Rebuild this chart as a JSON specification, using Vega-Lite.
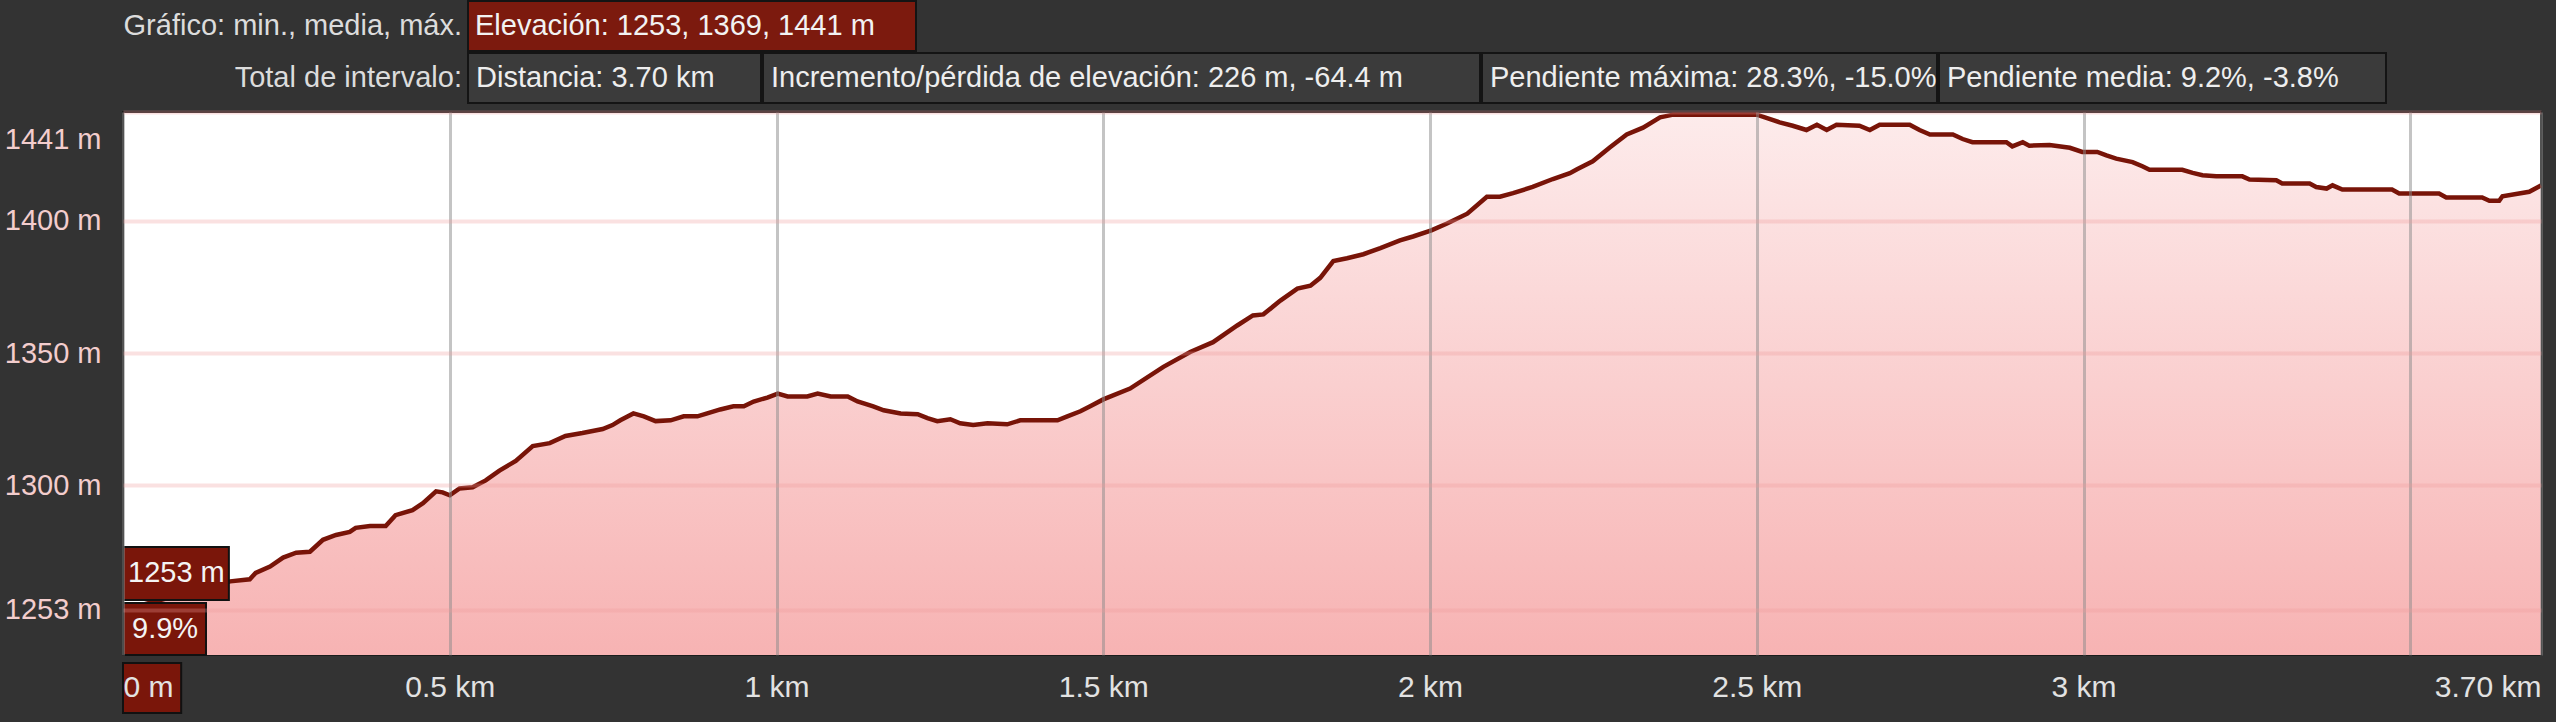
{
  "$schema": "https://vega.github.io/schema/vega-lite/v6.json",
  "background": "#333333",
  "padding": {"left": 0, "top": 0, "right": 16, "bottom": 0},
  "spacing": 0,
  "config": {
    "font": "Liberation Sans, Arial, sans-serif",
    "view": {"stroke": null},
    "text": {"font": "Liberation Sans, Arial, sans-serif", "fontSize": 29}
  },
  "datasets": {
    "profile": [
      {"km": 0, "elev": 1253}, {"km": 0.164, "elev": 1263.8}, {"km": 0.194, "elev": 1264.6}, {"km": 0.203, "elev": 1267},
      {"km": 0.225, "elev": 1269.4}, {"km": 0.245, "elev": 1272.8}, {"km": 0.265, "elev": 1274.6}, {"km": 0.286, "elev": 1275},
      {"km": 0.306, "elev": 1279.5}, {"km": 0.326, "elev": 1281.3}, {"km": 0.347, "elev": 1282.5}, {"km": 0.356, "elev": 1284},
      {"km": 0.378, "elev": 1284.7}, {"km": 0.402, "elev": 1284.7}, {"km": 0.417, "elev": 1288.8}, {"km": 0.443, "elev": 1290.7},
      {"km": 0.459, "elev": 1293.3}, {"km": 0.479, "elev": 1297.8}, {"km": 0.489, "elev": 1297.4}, {"km": 0.5, "elev": 1296.3},
      {"km": 0.515, "elev": 1298.9}, {"km": 0.535, "elev": 1299.3}, {"km": 0.555, "elev": 1301.9}, {"km": 0.576, "elev": 1305.6},
      {"km": 0.601, "elev": 1309.3}, {"km": 0.627, "elev": 1314.9}, {"km": 0.653, "elev": 1316}, {"km": 0.677, "elev": 1318.7},
      {"km": 0.703, "elev": 1319.8}, {"km": 0.734, "elev": 1321.3}, {"km": 0.749, "elev": 1322.8}, {"km": 0.761, "elev": 1324.6},
      {"km": 0.781, "elev": 1327.2}, {"km": 0.797, "elev": 1326.1}, {"km": 0.815, "elev": 1324.3}, {"km": 0.838, "elev": 1324.6},
      {"km": 0.858, "elev": 1326.1}, {"km": 0.879, "elev": 1326.1}, {"km": 0.894, "elev": 1327.2}, {"km": 0.914, "elev": 1328.7},
      {"km": 0.934, "elev": 1329.9}, {"km": 0.95, "elev": 1329.9}, {"km": 0.965, "elev": 1331.7}, {"km": 0.986, "elev": 1333.2},
      {"km": 1.002, "elev": 1334.7}, {"km": 1.017, "elev": 1333.6}, {"km": 1.047, "elev": 1333.6}, {"km": 1.063, "elev": 1334.7},
      {"km": 1.083, "elev": 1333.6}, {"km": 1.109, "elev": 1333.6}, {"km": 1.124, "elev": 1331.7}, {"km": 1.148, "elev": 1329.9},
      {"km": 1.164, "elev": 1328.4}, {"km": 1.19, "elev": 1327.2}, {"km": 1.216, "elev": 1326.9}, {"km": 1.231, "elev": 1325.4},
      {"km": 1.246, "elev": 1324.3}, {"km": 1.266, "elev": 1325}, {"km": 1.281, "elev": 1323.5}, {"km": 1.301, "elev": 1322.8},
      {"km": 1.323, "elev": 1323.5}, {"km": 1.353, "elev": 1323.1}, {"km": 1.373, "elev": 1324.6}, {"km": 1.43, "elev": 1324.6},
      {"km": 1.445, "elev": 1326.1}, {"km": 1.465, "elev": 1328}, {"km": 1.48, "elev": 1329.9}, {"km": 1.5, "elev": 1332.5},
      {"km": 1.541, "elev": 1336.6}, {"km": 1.592, "elev": 1344.8}, {"km": 1.633, "elev": 1350.4}, {"km": 1.668, "elev": 1354.1},
      {"km": 1.705, "elev": 1360.4}, {"km": 1.729, "elev": 1364.2}, {"km": 1.745, "elev": 1364.6}, {"km": 1.771, "elev": 1369.8},
      {"km": 1.797, "elev": 1374.3}, {"km": 1.817, "elev": 1375.4}, {"km": 1.832, "elev": 1378.4}, {"km": 1.852, "elev": 1384.7},
      {"km": 1.873, "elev": 1385.8}, {"km": 1.898, "elev": 1387.3}, {"km": 1.924, "elev": 1389.6}, {"km": 1.954, "elev": 1392.5},
      {"km": 1.974, "elev": 1394}, {"km": 2.002, "elev": 1396.3}, {"km": 2.026, "elev": 1398.9}, {"km": 2.057, "elev": 1402.6},
      {"km": 2.087, "elev": 1409}, {"km": 2.107, "elev": 1409}, {"km": 2.127, "elev": 1410.4}, {"km": 2.157, "elev": 1412.7},
      {"km": 2.188, "elev": 1415.7}, {"km": 2.214, "elev": 1417.9}, {"km": 2.225, "elev": 1419.4}, {"km": 2.249, "elev": 1422.4},
      {"km": 2.275, "elev": 1427.6}, {"km": 2.301, "elev": 1432.5}, {"km": 2.326, "elev": 1435.1}, {"km": 2.352, "elev": 1439},
      {"km": 2.372, "elev": 1440}, {"km": 2.5, "elev": 1440}, {"km": 2.535, "elev": 1437.1}, {"km": 2.555, "elev": 1435.8},
      {"km": 2.576, "elev": 1434.2}, {"km": 2.592, "elev": 1436.2}, {"km": 2.607, "elev": 1434.2}, {"km": 2.622, "elev": 1436.2},
      {"km": 2.657, "elev": 1435.8}, {"km": 2.673, "elev": 1434.2}, {"km": 2.688, "elev": 1436.2}, {"km": 2.734, "elev": 1436.2},
      {"km": 2.749, "elev": 1434.2}, {"km": 2.765, "elev": 1432.5}, {"km": 2.8, "elev": 1432.5}, {"km": 2.815, "elev": 1430.8},
      {"km": 2.83, "elev": 1429.6}, {"km": 2.882, "elev": 1429.6}, {"km": 2.891, "elev": 1428}, {"km": 2.907, "elev": 1429.6},
      {"km": 2.917, "elev": 1428.3}, {"km": 2.948, "elev": 1428.5}, {"km": 2.979, "elev": 1427.5}, {"km": 2.998, "elev": 1425.9},
      {"km": 3.021, "elev": 1425.9}, {"km": 3.035, "elev": 1424.6}, {"km": 3.05, "elev": 1423.4}, {"km": 3.075, "elev": 1422.1},
      {"km": 3.09, "elev": 1420.5}, {"km": 3.101, "elev": 1419.2}, {"km": 3.151, "elev": 1419.2}, {"km": 3.167, "elev": 1418},
      {"km": 3.182, "elev": 1417.1}, {"km": 3.203, "elev": 1416.7}, {"km": 3.243, "elev": 1416.7}, {"km": 3.254, "elev": 1415.5},
      {"km": 3.295, "elev": 1415.2}, {"km": 3.304, "elev": 1414}, {"km": 3.346, "elev": 1414}, {"km": 3.356, "elev": 1412.7},
      {"km": 3.372, "elev": 1412.1}, {"km": 3.381, "elev": 1413.3}, {"km": 3.396, "elev": 1411.7}, {"km": 3.472, "elev": 1411.7},
      {"km": 3.483, "elev": 1410.2}, {"km": 3.544, "elev": 1410.2}, {"km": 3.555, "elev": 1408.7}, {"km": 3.61, "elev": 1408.7},
      {"km": 3.621, "elev": 1407.5}, {"km": 3.636, "elev": 1407.5}, {"km": 3.641, "elev": 1409.2}, {"km": 3.682, "elev": 1410.9},
      {"km": 3.7, "elev": 1413.3}
    ]
  },
  "vconcat": [
    {
      "spacing": 0,
      "hconcat": [
        {
          "width": 344, "height": 50,
          "data": {"values": [{"t": "Gráfico: min., media, máx."}]},
          "mark": {"type": "text", "align": "right", "baseline": "middle", "dx": -5, "color": "#dcdcdc"},
          "encoding": {"x": {"value": "width"}, "text": {"field": "t"}}
        },
        {
          "width": 448, "height": 50,
          "view": {"fill": "#7c1a0e", "stroke": "#141414", "strokeWidth": 2},
          "data": {"values": [{"t": "Elevación: 1253, 1369, 1441 m"}]},
          "mark": {"type": "text", "align": "left", "baseline": "middle", "dx": 7, "color": "#f2f2f2"},
          "encoding": {"x": {"value": 0}, "text": {"field": "t"}}
        }
      ]
    },
    {
      "spacing": 0,
      "hconcat": [
        {
          "width": 344, "height": 50,
          "data": {"values": [{"t": "Total de intervalo:"}]},
          "mark": {"type": "text", "align": "right", "baseline": "middle", "dx": -5, "color": "#dcdcdc"},
          "encoding": {"x": {"value": "width"}, "text": {"field": "t"}}
        },
        {
          "width": 293, "height": 50,
          "view": {"fill": "#3b3b3b", "stroke": "#141414", "strokeWidth": 2},
          "data": {"values": [{"t": "Distancia: 3.70 km"}]},
          "mark": {"type": "text", "align": "left", "baseline": "middle", "dx": 8, "color": "#eeeeee"},
          "encoding": {"x": {"value": 0}, "text": {"field": "t"}}
        },
        {
          "width": 717, "height": 50,
          "view": {"fill": "#3b3b3b", "stroke": "#141414", "strokeWidth": 2},
          "data": {"values": [{"t": "Incremento/pérdida de elevación: 226 m, -64.4 m"}]},
          "mark": {"type": "text", "align": "left", "baseline": "middle", "dx": 8, "color": "#eeeeee"},
          "encoding": {"x": {"value": 0}, "text": {"field": "t"}}
        },
        {
          "width": 455, "height": 50,
          "view": {"fill": "#3b3b3b", "stroke": "#141414", "strokeWidth": 2},
          "data": {"values": [{"t": "Pendiente máxima: 28.3%, -15.0%"}]},
          "mark": {"type": "text", "align": "left", "baseline": "middle", "dx": 8, "color": "#eeeeee"},
          "encoding": {"x": {"value": 0}, "text": {"field": "t"}}
        },
        {
          "width": 447, "height": 50,
          "view": {"fill": "#3b3b3b", "stroke": "#141414", "strokeWidth": 2},
          "data": {"values": [{"t": "Pendiente media: 9.2%, -3.8%"}]},
          "mark": {"type": "text", "align": "left", "baseline": "middle", "dx": 8, "color": "#eeeeee"},
          "encoding": {"x": {"value": 0}, "text": {"field": "t"}}
        }
      ]
    },
    {
      "width": 2418, "height": 543,
      "view": {"fill": "#ffffff", "stroke": "#1c1c1c", "strokeWidth": 2},
      "layer": [
        {
          "data": {"name": "profile"},
          "mark": {
            "type": "area", "clip": true,
            "color": {
              "gradient": "linear", "x1": 0, "y1": 0, "x2": 0, "y2": 1,
              "stops": [{"offset": 0, "color": "#fdebeb"}, {"offset": 1, "color": "#f7b3b3"}]
            }
          },
          "encoding": {
            "x": {
              "field": "km", "type": "quantitative",
              "scale": {"domain": [0, 3.7], "nice": false, "zero": false},
              "axis": {
                "title": null, "values": [0, 0.5, 1, 1.5, 2, 2.5, 3, 3.5, 3.7],
                "labelExpr": "datum.value == 0 ? '0 m' : (abs(datum.value - 3.7) < 0.001 ? '3.70 km' : (abs(datum.value - 3.5) < 0.001 ? '' : datum.value + ' km'))",
                "domain": false, "ticks": false, "labelFlush": true, "labelOverlap": false,
                "labelPadding": 17, "labelFontSize": 30, "labelColor": "#e2e2e2",
                "grid": true, "gridColor": "#8a8a8a", "gridOpacity": 0.5, "gridWidth": 3,
                "zindex": 1, "minExtent": 67, "maxExtent": 67
              }
            },
            "y": {
              "field": "elev", "type": "quantitative",
              "scale": {"domain": [1236, 1441], "nice": false, "zero": false},
              "axis": {
                "title": null, "values": [1253, 1300, 1350, 1400, 1441],
                "labelExpr": "datum.value + ' m'",
                "domain": false, "ticks": false, "labelPadding": 22, "labelFontSize": 29, "labelColor": "#f3cdcd",
                "labelFlush": true, "labelFlushOffset": -13,
                "grid": true, "gridColor": "#f09c9c", "gridOpacity": 0.3, "gridWidth": 4,
                "zindex": 1, "minExtent": 122, "maxExtent": 122
              }
            },
            "y2": {"datum": 1236}
          }
        },
        {
          "data": {"name": "profile"},
          "mark": {"type": "line", "color": "#781408", "strokeWidth": 4.5},
          "encoding": {
            "x": {"field": "km", "type": "quantitative"},
            "y": {"field": "elev", "type": "quantitative"}
          }
        },
        {
          "data": {"values": [{"t": "1253 m"}]},
          "mark": {"type": "rect", "fill": "#7a160a", "stroke": "#111111", "strokeWidth": 2},
          "encoding": {
            "x": {"datum": 0, "type": "quantitative"}, "x2": {"datum": 0.162},
            "y": {"datum": 1276.8, "type": "quantitative"}, "y2": {"datum": 1256.8}
          }
        },
        {
          "data": {"values": [{"t": "1253 m"}]},
          "mark": {"type": "text", "align": "left", "baseline": "middle", "dx": 5, "fontSize": 29, "color": "#f4f4f4"},
          "encoding": {
            "x": {"datum": 0, "type": "quantitative"},
            "y": {"datum": 1266.8, "type": "quantitative"},
            "text": {"field": "t"}
          }
        },
        {
          "data": {"values": [{"t": "9.9%"}]},
          "mark": {"type": "rect", "fill": "#7a160a", "stroke": "#111111", "strokeWidth": 2},
          "encoding": {
            "x": {"datum": 0, "type": "quantitative"}, "x2": {"datum": 0.127},
            "y": {"datum": 1255.6, "type": "quantitative"}, "y2": {"datum": 1236}
          }
        },
        {
          "data": {"values": [{"t": "9.9%"}]},
          "mark": {"type": "text", "align": "left", "baseline": "middle", "dx": 9, "fontSize": 29, "color": "#f4f4f4"},
          "encoding": {
            "x": {"datum": 0, "type": "quantitative"},
            "y": {"datum": 1245.8, "type": "quantitative"},
            "text": {"field": "t"}
          }
        },
        {
          "data": {"values": [{"t": "0 m"}]},
          "mark": {"type": "rect", "fill": "#7a160a", "stroke": "#111111", "strokeWidth": 2},
          "encoding": {
            "x": {"datum": 0, "type": "quantitative"}, "x2": {"datum": 0.089},
            "y": {"datum": 1233, "type": "quantitative"}, "y2": {"datum": 1214.1}
          }
        }
      ]
    }
  ]
}
